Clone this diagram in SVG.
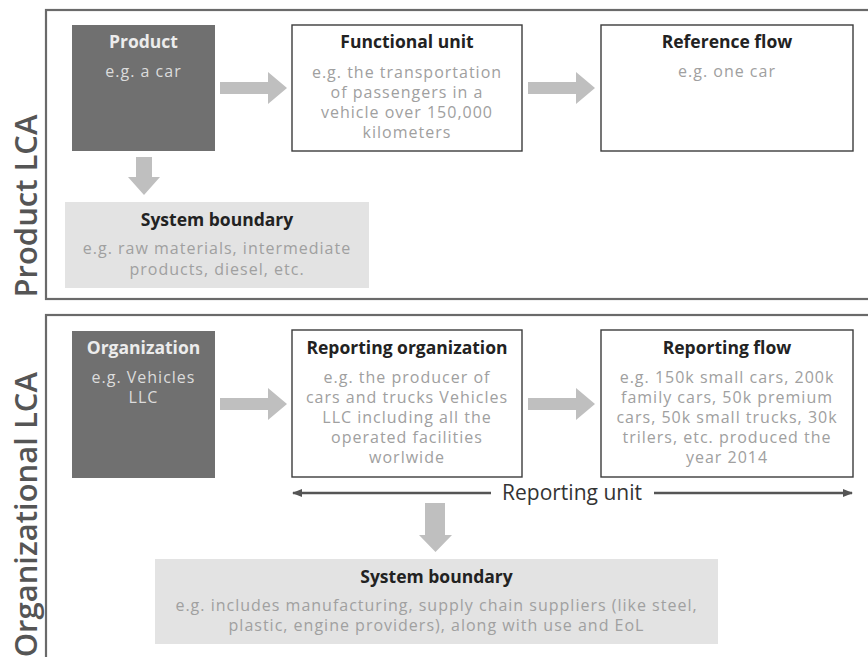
<svg xmlns="http://www.w3.org/2000/svg" width="868" height="657" viewBox="0 0 868 657">
<style>
text{font-family:"Open Sans","Liberation Sans",sans-serif;text-anchor:middle}
.panel{fill:none;stroke:#6a6a6a;stroke-width:2.2}
.dark{fill:#707070}
.white{fill:#fff;stroke:#3c3c3c;stroke-width:1.4}
.light{fill:#e3e3e3}
.t{font-size:17.5px;font-weight:700;fill:#222}
.td{font-size:17.5px;font-weight:700;fill:#ececec}
.b{font-size:16px;letter-spacing:1px;fill:#a0a0a0}
.bd{font-size:16px;letter-spacing:1px;fill:#dcdcdc}
.side{font-size:31px;font-weight:600;fill:#555}
.big{fill:#bfbfbf}
.ru{font-size:21px;fill:#333}
.line{stroke:#555;stroke-width:2.5;fill:none}
</style>
<defs>
<marker id="ah" viewBox="0 0 10 8" refX="9" refY="4" markerWidth="4" markerHeight="3.2" markerUnits="strokeWidth" orient="auto-start-reverse">
<path d="M0,0 L10,4 L0,8 Z" fill="#555"/>
</marker>
<path id="rarrow" d="M0,-6 L48,-6 L48,-16 L67,0 L48,16 L48,6 L0,6 Z"/>
</defs>

<g id="panel-product">
<rect class="panel" x="46" y="10" width="830" height="289"/>
<text class="side" transform="translate(37,206) rotate(-90)">Product LCA</text>
</g>
<g id="panel-organizational">
<rect class="panel" x="46" y="315" width="830" height="360"/>
<text class="side" transform="translate(37,372) rotate(-90)" style="text-anchor:end">Organizational LCA</text>
</g>

<g id="product">
<rect class="dark" x="72" y="25" width="143" height="126"/>
<text class="td" x="143.5" y="48">Product</text>
<text class="bd" x="143.5" y="77">e.g. a car</text>
</g>
<g id="functional-unit">
<rect class="white" x="292" y="25" width="230" height="126"/>
<text class="t" x="407" y="48">Functional unit</text>
<text class="b" x="407" y="78">e.g. the transportation</text>
<text class="b" x="407" y="98">of passengers in a</text>
<text class="b" x="407" y="118">vehicle over 150,000</text>
<text class="b" x="407" y="138">kilometers</text>
</g>
<g id="reference-flow">
<rect class="white" x="601" y="25" width="252" height="126"/>
<text class="t" x="727" y="48">Reference flow</text>
<text class="b" x="727" y="77">e.g. one car</text>
</g>
<g id="system-boundary-1">
<rect class="light" x="65" y="202" width="304" height="86"/>
<text class="t" x="217" y="226">System boundary</text>
<text class="b" x="217" y="254">e.g. raw materials, intermediate</text>
<text class="b" x="217" y="275">products, diesel, etc.</text>
</g>

<g id="organization">
<rect class="dark" x="72" y="331" width="143" height="147"/>
<text class="td" x="143.5" y="354">Organization</text>
<text class="bd" x="143.5" y="383">e.g. Vehicles</text>
<text class="bd" x="143.5" y="403">LLC</text>
</g>
<g id="reporting-organization">
<rect class="white" x="292" y="330" width="230" height="147"/>
<text class="t" x="407" y="354">Reporting organization</text>
<text class="b" x="407" y="383">e.g. the producer of</text>
<text class="b" x="407" y="403">cars and trucks Vehicles</text>
<text class="b" x="407" y="423">LLC including all the</text>
<text class="b" x="407" y="443">operated facilities</text>
<text class="b" x="407" y="463">worlwide</text>
</g>
<g id="reporting-flow">
<rect class="white" x="601" y="330" width="252" height="147"/>
<text class="t" x="727" y="354">Reporting flow</text>
<text class="b" x="727" y="383">e.g. 150k small cars, 200k</text>
<text class="b" x="727" y="403">family cars, 50k premium</text>
<text class="b" x="727" y="423">cars, 50k small trucks, 30k</text>
<text class="b" x="727" y="443">trilers, etc. produced the</text>
<text class="b" x="727" y="463">year 2014</text>
</g>
<g id="system-boundary-2">
<rect class="light" x="155" y="559" width="563" height="85"/>
<text class="t" x="436.5" y="583">System boundary</text>
<text class="b" x="436.5" y="611">e.g. includes manufacturing, supply chain suppliers (like steel,</text>
<text class="b" x="436.5" y="631">plastic, engine providers), along with use and EoL</text>
</g>

<g id="connectors">
<use href="#rarrow" class="big" x="220" y="88"/>
<use href="#rarrow" class="big" x="528" y="88"/>
<use href="#rarrow" class="big" x="220" y="404"/>
<use href="#rarrow" class="big" x="528" y="404"/>
<path class="big" d="M136,157 L152,157 L152,177 L160,177 L144,195 L128,177 L136,177 Z"/>
<path class="big" d="M425,503 L445,503 L445,535 L452,535 L435.5,552 L419,535 L425,535 Z"/>
<line class="line" x1="491" y1="493" x2="293" y2="493" marker-end="url(#ah)"/>
<line class="line" x1="654" y1="493" x2="852" y2="493" marker-end="url(#ah)"/>
<text class="ru" x="572" y="500">Reporting unit</text>
</g>
</svg>
